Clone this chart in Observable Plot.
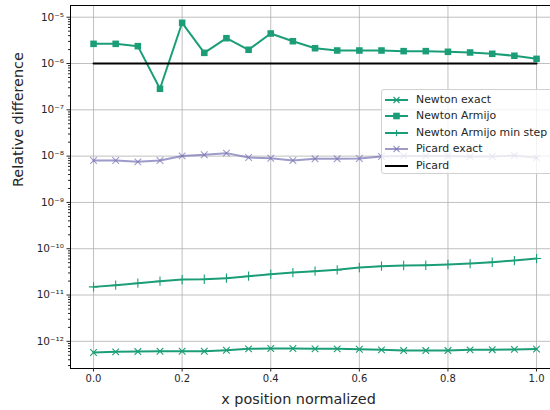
<!DOCTYPE html>
<html><head><meta charset="utf-8">
<script src="https://cdn.jsdelivr.net/npm/d3@7"></script>
<script src="https://cdn.jsdelivr.net/npm/@observablehq/plot@0.6"></script>
<style>
body{margin:0;background:#fff;font-family:"DejaVu Sans",sans-serif;}
#wrap{position:relative;width:550px;height:410px;overflow:hidden;}
#legend{position:absolute;left:381px;top:89px;width:190px;height:85px;background:rgba(255,255,255,0.8);border:1px solid #d0d0d0;border-radius:3px;box-sizing:border-box;}
#legend .row{position:absolute;left:0;height:16px;display:flex;align-items:center;}
#legend .row span{position:absolute;left:34px;font-size:10.9px;color:#262626;white-space:nowrap;line-height:16px;}
</style></head><body><div id="wrap"></div>
<script>
const xPos = [0,0.05,0.1,0.15,0.2,0.25,0.3,0.35,0.4,0.45,0.5,0.55,0.6,0.65,0.7,0.75,0.8,0.85,0.9,0.95,1.0];
const newtonExact = [5.73e-13,5.93e-13,6.02e-13,6.11e-13,6.11e-13,6.11e-13,6.42e-13,6.89e-13,6.99e-13,6.99e-13,6.89e-13,6.89e-13,6.75e-13,6.55e-13,6.32e-13,6.32e-13,6.32e-13,6.55e-13,6.6e-13,6.7e-13,6.8e-13];
const newtonArmijo = [2.66e-6,2.66e-6,2.37e-6,2.85e-7,7.57e-6,1.70e-6,3.52e-6,1.98e-6,4.45e-6,3.03e-6,2.14e-6,1.91e-6,1.91e-6,1.91e-6,1.85e-6,1.85e-6,1.79e-6,1.73e-6,1.62e-6,1.47e-6,1.26e-6];
const newtonArmijoMinStep = [1.50e-11,1.63e-11,1.80e-11,1.99e-11,2.16e-11,2.19e-11,2.31e-11,2.55e-11,2.81e-11,3.06e-11,3.27e-11,3.50e-11,3.93e-11,4.19e-11,4.34e-11,4.40e-11,4.56e-11,4.79e-11,5.11e-11,5.56e-11,6.14e-11];
const picardExact = [8.04e-9,8.04e-9,7.53e-9,8.04e-9,1.01e-8,1.07e-8,1.16e-8,9.33e-9,9.0e-9,8.04e-9,8.75e-9,8.75e-9,8.88e-9,9.8e-9,1.01e-8,1.01e-8,1.01e-8,9.8e-9,9.8e-9,1.03e-8,9.19e-9];
const picard = [1e-6,1e-6,1e-6,1e-6,1e-6,1e-6,1e-6,1e-6,1e-6,1e-6,1e-6,1e-6,1e-6,1e-6,1e-6,1e-6,1e-6,1e-6,1e-6,1e-6,1e-6];
const seriesNames = ["Newton exact","Newton Armijo","Newton Armijo min step","Picard exact","Picard"];
const xTicks = [0,0.2,0.4,0.6,0.8,1.0];
const yTicks = [1e-12,1e-11,1e-10,1e-9,1e-8,1e-7,1e-6,1e-5];
const xDomain = [-0.052, 1.0315];
const yDomain = [2.59e-13, 1.79e-5];
const xLabel = "x position normalized";
const yLabel = "Relative difference";

const styles = [
  {values:newtonExact, color:"#1b9e77", op:1, symbol:"times"},
  {values:newtonArmijo, color:"#1b9e77", op:1, symbol:"square"},
  {values:newtonArmijoMinStep, color:"#1b9e77", op:1, symbol:"plus"},
  {values:picardExact, color:"#7570b3", op:0.7, symbol:"times"},
  {values:picard, color:"#000000", op:1, symbol:null}
];
const sup = {"-":"\u207B","0":"\u2070","1":"\u00B9","2":"\u00B2","3":"\u00B3","4":"\u2074","5":"\u2075","6":"\u2076","7":"\u2077","8":"\u2078","9":"\u2079"};
const fmtPow = d => "10" + String(Math.round(Math.log10(d))).split("").map(c => sup[c]).join("");
const minorY = [];
for (let e = -13; e <= -5; e++) for (let m = 2; m <= 9; m++) { const v = m * Math.pow(10, e); if (v > yDomain[0] && v < yDomain[1]) minorY.push(v); }

const marks = [
  Plot.gridX(xTicks, {stroke:"#b0b0b0", strokeOpacity:0.8, strokeWidth:1}),
  Plot.gridY(yTicks, {stroke:"#b0b0b0", strokeOpacity:0.8, strokeWidth:1}),
];
styles.forEach((s, k) => {
  const data = xPos.map((x, i) => ({x, y: s.values[i], name: seriesNames[k]}));
  marks.push(Plot.line(data, {x:"x", y:"y", stroke:s.color, strokeOpacity:s.op, strokeWidth:2}));
  if (s.symbol === "square") marks.push(Plot.dot(data, {x:"x", y:"y", symbol:"square", fill:s.color, fillOpacity:s.op, r:3.7}));
  else if (s.symbol) marks.push(Plot.dot(data, {x:"x", y:"y", symbol:s.symbol, stroke:s.color, strokeOpacity:s.op, strokeWidth:1.1, r:3.1}));
});
marks.push(
  Plot.ruleX([xDomain[0]], {stroke:"#000", strokeWidth:1}),
  Plot.ruleY([yDomain[0], yDomain[1]], {stroke:"#000", strokeWidth:1}),
  Plot.axisX({ticks:xTicks, tickFormat:d3.format(".1f"), tickSize:3.5, tickPadding:3, fontSize:10, label:null, color:"#262626"}),
  Plot.axisY({ticks:yTicks, tickFormat:fmtPow, tickSize:3.5, tickPadding:3, fontSize:10.5, label:null, color:"#262626"}),
  Plot.axisY({ticks:minorY, tickFormat:() => "", tickSize:2, label:null, color:"#262626"}),
  Plot.text([xLabel], {frameAnchor:"bottom", dy:31, dx:-12, fontSize:14.4, fill:"#262626", lineAnchor:"middle"}),
  Plot.text([yLabel], {frameAnchor:"left", dx:-52, rotate:-90, fontSize:14.4, fill:"#262626", lineAnchor:"middle"})
);

const chart = Plot.plot({
  width:550, height:410,
  marginTop:5, marginBottom:42, marginLeft:70, marginRight:0,
  style:{fontFamily:"DejaVu Sans", background:"#fff", overflow:"visible"},
  x:{domain:xDomain},
  y:{type:"log", domain:yDomain},
  marks
});
const wrap = document.getElementById("wrap");
wrap.appendChild(chart);

// legend
const leg = document.createElement("div");
leg.id = "legend";
const ns = "http://www.w3.org/2000/svg";
seriesNames.forEach((name, k) => {
  const s = styles[k];
  const row = document.createElement("div");
  row.className = "row";
  row.style.top = (2 + k * 16.4) + "px";
  const svg = document.createElementNS(ns, "svg");
  svg.setAttribute("width", 30); svg.setAttribute("height", 16);
  let h = `<line x1="3" x2="26" y1="8" y2="8" stroke="${s.color}" stroke-opacity="${s.op}" stroke-width="2"/>`;
  if (s.symbol === "square") h += `<rect x="11.2" y="4.7" width="6.6" height="6.6" fill="${s.color}"/>`;
  if (s.symbol === "times") h += `<path d="M11.5,5L17.5,11M11.5,11L17.5,5" stroke="${s.color}" stroke-opacity="${s.op}" stroke-width="1.1"/>`;
  if (s.symbol === "plus") h += `<path d="M14.5,4.8V11.2" stroke="${s.color}" stroke-width="1.1"/>`;
  svg.innerHTML = h;
  row.appendChild(svg);
  const t = document.createElement("span");
  t.textContent = name;
  row.appendChild(t);
  leg.appendChild(row);
});
wrap.appendChild(leg);
</script></body></html>
